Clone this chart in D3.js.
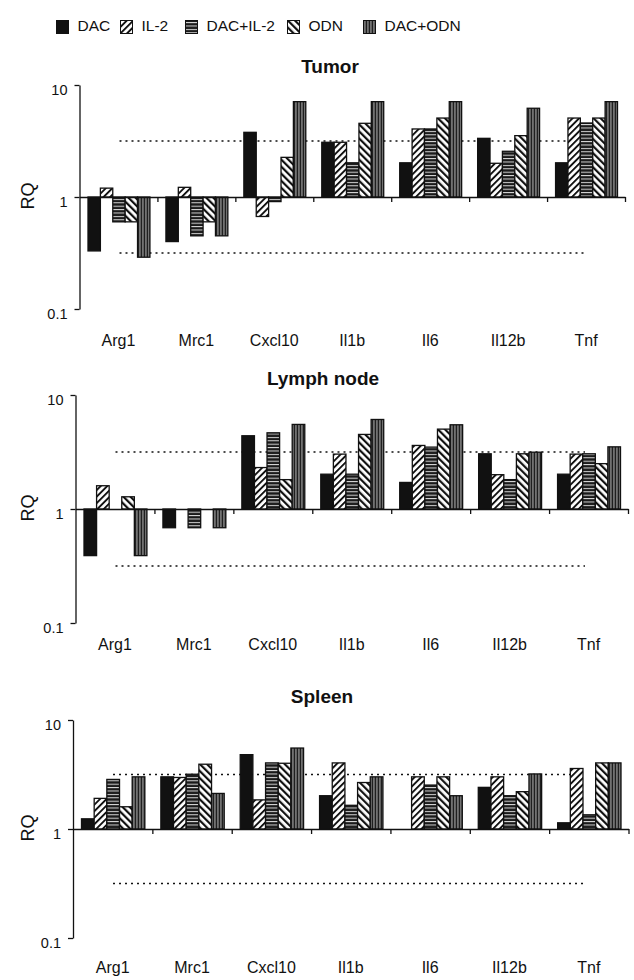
<!DOCTYPE html>
<html>
<head>
<meta charset="utf-8">
<script src="https://cdn.jsdelivr.net/npm/d3@7"></script>
<style>
  body { margin: 0; background: #fff; }
  svg { display: block; font-family: "Liberation Sans", Arial, Helvetica, sans-serif; }
</style>
</head>
<body>
<div id="vis"></div>
<script>
const svgWidth = 634;
const svgHeight = 980;

const categories = ['Arg1', 'Mrc1', 'Cxcl10', 'Il1b', 'Il6', 'Il12b', 'Tnf'];
const treatments = ['DAC', 'IL-2', 'DAC+IL-2', 'ODN', 'DAC+ODN'];
const yTicks = [0.1, 1, 10];
const cutoffs = [0.316, 3.16];

// RQ per gene, columns in treatment order (null = no bar)
const tumorRQ = [
  [0.33, 1.2, 0.6, 0.6, 0.29],
  [0.40, 1.22, 0.45, 0.6, 0.45],
  [3.78, 0.67, 0.91, 2.26, 7.1],
  [3.08, 3.08, 2.02, 4.55, 7.1],
  [2.02, 4.05, 4.05, 5.07, 7.1],
  [3.34, 2.0, 2.56, 3.53, 6.2],
  [2.02, 5.07, 4.58, 5.07, 7.1],
];
const lymphNodeRQ = [
  [0.39, 1.6, null, 1.28, 0.39],
  [0.685, null, 0.685, null, 0.685],
  [4.39, 2.31, 4.66, 1.81, 5.52],
  [2.02, 3.03, 2.02, 4.51, 6.1],
  [1.71, 3.61, 3.49, 5.02, 5.48],
  [3.05, 2.0, 1.81, 3.05, 3.15],
  [2.02, 3.03, 3.05, 2.5, 3.51],
];
const spleenRQ = [
  [1.24, 1.91, 2.85, 1.6, 3.01],
  [3.01, 2.97, 3.18, 3.93, 2.12],
  [4.81, 1.85, 4.04, 4.01, 5.53],
  [2.02, 4.04, 1.65, 2.67, 3.01],
  [null, 3.01, 2.53, 3.01, 2.02],
  [2.41, 3.01, 2.02, 2.2, 3.2],
  [1.14, 3.59, 1.35, 4.04, 4.04],
];

// layout of the three panels
const panels = [
  { title: 'Tumor', data: tumorRQ, left: 79.5, right: 625, top: 85, bottom: 309, titleX: 330, titleY: 73, labelY: 346 },
  { title: 'Lymph node', data: lymphNodeRQ, left: 75.5, right: 628, top: 395, bottom: 623, titleX: 323, titleY: 385, labelY: 650 },
  { title: 'Spleen', data: spleenRQ, left: 73, right: 628.5, top: 720, bottom: 938, titleX: 322, titleY: 703, labelY: 973 },
];

const legendX = [56, 120, 185, 287, 363];
const ink = '#111';

const svg = d3.select('#vis').append('svg').attr('width', svgWidth).attr('height', svgHeight);
const defs = svg.append('defs');

// fill patterns for each treatment
function diagPattern(id, angle, gap, thick) {
  const p = defs.append('pattern').attr('id', id).attr('patternUnits', 'userSpaceOnUse')
    .attr('width', gap).attr('height', gap).attr('patternTransform', `rotate(${angle})`);
  p.append('rect').attr('width', gap).attr('height', gap).attr('fill', '#fff');
  p.append('rect').attr('x', 0).attr('width', thick).attr('height', gap).attr('fill', ink);
}
diagPattern('p-il2', 45, 4.6, 1.9);
diagPattern('p-odn', -45, 5, 2.2);

const hp = defs.append('pattern').attr('id', 'p-dacil2').attr('patternUnits', 'userSpaceOnUse').attr('width', 4).attr('height', 3.4);
hp.append('rect').attr('width', 4).attr('height', 3.4).attr('fill', '#1a1a1a');
hp.append('rect').attr('y', 1.7).attr('width', 4).attr('height', 1).attr('fill', '#d8d8d8');

const vp = defs.append('pattern').attr('id', 'p-dacodn').attr('patternUnits', 'userSpaceOnUse').attr('width', 3).attr('height', 4);
vp.append('rect').attr('width', 3).attr('height', 4).attr('fill', '#1f1f1f');
vp.append('rect').attr('x', 1.5).attr('width', 0.9).attr('height', 4).attr('fill', '#c4c4c4');

const fills = d3.scaleOrdinal()
  .domain(treatments)
  .range([ink, 'url(#p-il2)', 'url(#p-dacil2)', 'url(#p-odn)', 'url(#p-dacodn)']);

// legend
const legend = svg.append('g').attr('class', 'legend');
treatments.forEach((t, i) => {
  const g = legend.append('g').attr('transform', `translate(${legendX[i]},0)`);
  g.append('rect').attr('x', 0.5).attr('y', 20.5).attr('width', 12).attr('height', 13)
    .attr('fill', fills(t)).attr('stroke', ink).attr('stroke-width', 1);
  g.append('text').attr('x', 21.5).attr('y', 30.5).attr('font-size', 15.5).attr('fill', ink).text(t);
});

panels.forEach((p) => {
  const g = svg.append('g').attr('class', 'panel');

  const y = d3.scaleLog().domain([0.1, 10]).range([p.bottom, p.top]);
  const x = d3.scaleBand().domain(categories).range([p.left, p.right]);
  const w = x.bandwidth();
  const x1 = d3.scaleBand().domain(treatments).range([8.5, w - 7.5]);
  const xEdge = d3.scaleLinear().domain([0, categories.length]).range([p.left, p.right]);

  // title
  g.append('text').attr('x', p.titleX).attr('y', p.titleY).attr('text-anchor', 'middle')
    .attr('font-size', 19).attr('font-weight', 'bold').attr('fill', ink).text(p.title);

  // RQ label
  g.append('text').attr('transform', `translate(34,${y(1) - 1}) rotate(-90)`)
    .attr('text-anchor', 'middle').attr('font-size', 18).attr('fill', ink).text('RQ');

  // dotted cutoff lines
  g.selectAll('line.cut').data(cutoffs).join('line').attr('class', 'cut')
    .attr('x1', p.left + 40).attr('x2', 585)
    .attr('y1', (d) => y(d)).attr('y2', (d) => y(d))
    .attr('stroke', ink).attr('stroke-width', 1.4).attr('stroke-dasharray', '2,4');

  // bars
  const cells = [];
  p.data.forEach((row, i) => {
    row.forEach((v, j) => {
      if (v != null) cells.push({ cat: categories[i], t: treatments[j], v });
    });
  });
  g.append('g').selectAll('rect').data(cells).join('rect')
    .attr('x', (d) => x(d.cat) + x1(d.t))
    .attr('width', x1.bandwidth())
    .attr('y', (d) => Math.min(y(d.v), y(1)))
    .attr('height', (d) => Math.abs(y(d.v) - y(1)))
    .attr('fill', (d) => fills(d.t))
    .attr('stroke', ink).attr('stroke-width', 1.3);

  // y axis
  const yAxis = d3.axisLeft(y).tickValues(yTicks).tickFormat((d) => String(d))
    .tickSize(5).tickSizeOuter(0).tickPadding(7);
  const ya = g.append('g').attr('transform', `translate(${p.left},0)`).call(yAxis);
  ya.selectAll('path, line').attr('stroke', ink).attr('stroke-width', 1.3);
  ya.selectAll('text').attr('font-size', 14.5).attr('fill', ink).attr('dy', '0.64em')
    .attr('font-family', '"Liberation Sans", Arial, sans-serif');

  // x axis at RQ = 1 with ticks at category edges
  const xAxis = d3.axisBottom(xEdge).tickValues(d3.range(1, categories.length + 1))
    .tickFormat('').tickSize(5).tickSizeOuter(0);
  const xa = g.append('g').attr('transform', `translate(0,${y(1)})`).call(xAxis);
  xa.selectAll('path, line').attr('stroke', ink).attr('stroke-width', 1.3);

  // gene labels
  g.append('g').selectAll('text').data(categories).join('text')
    .attr('x', (d) => x(d) + w / 2).attr('y', p.labelY)
    .attr('text-anchor', 'middle').attr('font-size', 16).attr('fill', ink).text((d) => d);
});
</script>
</body>
</html>
